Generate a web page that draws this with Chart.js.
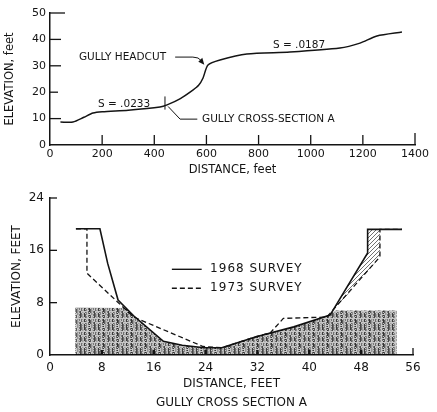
<!DOCTYPE html>
<html><head><meta charset="utf-8">
<script src="https://cdn.jsdelivr.net/npm/chart.js@4/dist/chart.umd.min.js"></script>
<style>
html,body{margin:0;padding:0;background:#fff;width:437px;height:412px;overflow:hidden}
#top{position:absolute;left:0;top:0;width:437px;height:182px}
#bot{position:absolute;left:0;top:182px;width:437px;height:230px}
</style></head><body>
<div id="top"><canvas id="c1"></canvas></div>
<div id="bot"><canvas id="c2"></canvas></div>
<script>
// ---- Longitudinal profile (top) ----
const profileDistance = [40, 88, 130, 165, 200, 300, 422, 449, 500, 548, 570, 587, 606, 652, 755, 920, 1112, 1189, 1254, 1350];
const profileElevation = [8.7, 8.7, 10.5, 12.1, 12.6, 13.2, 14.4, 15.2, 17.6, 20.8, 22.6, 25.4, 30.3, 32.2, 34.5, 35.2, 36.7, 38.6, 41.3, 42.8];
const profileXTicks = [0, 200, 400, 600, 800, 1000, 1200, 1400];
const profileYTicks = [0, 10, 20, 30, 40, 50];

// ---- Gully cross section A (bottom) ----
const survey1968X = [4, 7.7, 8.9, 10.5, 12.9, 17.5, 20.4, 23.8, 26.5, 31.8, 37.6, 43.2, 49, 49, 54.3];
const survey1968Y = [19.3, 19.3, 14.0, 8.4, 6.0, 2.1, 1.5, 1.1, 1.1, 2.8, 4.3, 6.1, 15.6, 19.2, 19.2];
const survey1973X = [4, 5.7, 5.7, 12.9, 23.6, 26.5, 31.8, 34.0, 36.0, 42.7, 50.9, 50.9, 54.3];
const survey1973Y = [19.3, 19.3, 12.5, 5.8, 1.3, 1.1, 2.8, 3.4, 5.6, 5.8, 15.0, 19.2, 19.2];
const soilLayerX = [3.9, 11.7, 12.9, 17.5, 20.4, 23.8, 26.5, 31.8, 37.6, 42.5, 44, 53.5];
const soilLayerY = [7.3, 7.2, 6.0, 2.1, 1.5, 1.1, 1.1, 2.8, 4.3, 5.9, 6.8, 6.8];
const erosionX = [49, 50.9, 50.9, 43.2, 49, 49];
const erosionY = [19.2, 19.2, 15.0, 6.1, 15.6, 19.2];
const sectionXTicks = [0, 8, 16, 24, 32, 40, 48, 56];
const sectionYTicks = [0, 8, 16, 24];

const FONT = '"DejaVu Sans", "Liberation Sans", sans-serif';
const INK = '#141414';
const pts = (xs, ys) => xs.map((x, i) => ({x, y: ys[i]}));

function makeStipple() {
  const W = 14, H = 24;
  const c = document.createElement('canvas'); c.width = W; c.height = H;
  const g = c.getContext('2d');
  g.fillStyle = 'rgba(0,0,0,0.22)'; g.fillRect(0, 0, W, H);
  const colA = [0.7, 0.5, 0.3, 0.15, 0.45, 0.75, 0.55, 0.25, 0.12, 0.4, 0.65, 0.45, 0.2, 0.1];
  for (let i = 0; i < W; i++) for (let j = 0; j < H; j++) {
    const v = (i * 7 + j * 13 + i * j * 3) % 11;
    if (v < 7) { g.fillStyle = 'rgba(0,0,0,' + colA[i] + ')'; g.fillRect(i, j, 1, 1); }
  }
  return g.createPattern(c, 'repeat');
}
function makeHatch() {
  const c = document.createElement('canvas'); c.width = 4; c.height = 4;
  const g = c.getContext('2d');
  g.strokeStyle = 'rgba(0,0,0,0.7)'; g.lineWidth = 0.8;
  g.beginPath(); g.moveTo(0, 4); g.lineTo(4, 0); g.stroke();
  return g.createPattern(c, 'repeat');
}

const fixTicks = arr => scale => { scale.ticks = arr.map(v => ({value: v})); };
const plain = v => String(v);

// ---------- TOP CHART ----------
const topNotes = {
  id: 'topNotes',
  afterDatasetsDraw(chart) {
    const {ctx, scales: {x, y}} = chart;
    const P = (a, b) => [x.getPixelForValue(a), y.getPixelForValue(b)];
    ctx.save();
    ctx.strokeStyle = INK; ctx.fillStyle = INK; ctx.lineWidth = 1.3;
    profileXTicks.forEach(v => {
      if (v === 0) return;
      const px = x.getPixelForValue(v);
      ctx.beginPath(); ctx.moveTo(px, y.bottom); ctx.lineTo(px, y.bottom - (v === 1400 ? 12 : 10)); ctx.stroke();
    });
    profileYTicks.forEach(v => {
      if (v === 0) return;
      const py = y.getPixelForValue(v);
      ctx.beginPath(); ctx.moveTo(x.left, py); ctx.lineTo(x.left + (v === 50 ? 15 : (v === 20 ? 8 : 11)), py); ctx.stroke();
    });
    ctx.font = '10.5px ' + FONT; ctx.textBaseline = 'middle'; ctx.textAlign = 'left';
    let p = P(111, 33.3); ctx.fillText('GULLY HEADCUT', p[0], p[1]);
    p = P(855, 37.9); ctx.fillText('S = .0187', p[0], p[1]);
    p = P(184, 15.4); ctx.fillText('S = .0233', p[0], p[1]);
    p = P(583, 9.8); ctx.fillText('GULLY CROSS-SECTION A', p[0], p[1]);
    // headcut arrow
    ctx.lineWidth = 1;
    let a = P(480, 33.3), b = P(548, 33.3), t = P(588, 30.8);
    ctx.beginPath(); ctx.moveTo(a[0], a[1]); ctx.lineTo(b[0], b[1]); ctx.quadraticCurveTo(b[0] + 6, b[1], t[0] - 2, t[1] - 3); ctx.stroke();
    ctx.beginPath(); ctx.moveTo(t[0] + 1, t[1] + 1); ctx.lineTo(t[0] - 5, t[1] - 2); ctx.lineTo(t[0] - 1, t[1] - 6); ctx.closePath(); ctx.fill();
    // cross-section mark and leader
    a = P(441, 13.4); b = P(441, 18.4);
    ctx.beginPath(); ctx.moveTo(a[0], a[1]); ctx.lineTo(b[0], b[1]); ctx.stroke();
    a = P(453, 14.6); b = P(499, 9.8); t = P(565, 9.8);
    ctx.beginPath(); ctx.moveTo(a[0], a[1]); ctx.lineTo(b[0], b[1]); ctx.lineTo(t[0], t[1]); ctx.stroke();
    ctx.restore();
  }
};

new Chart(document.getElementById('c1'), {
  type: 'line',
  data: {
    datasets: [{
      data: pts(profileDistance, profileElevation),
      borderColor: INK, borderWidth: 1.5, pointRadius: 0, tension: 0.25, fill: false
    }]
  },
  options: {
    responsive: true, maintainAspectRatio: false, animation: false,
    layout: {padding: {left: 3, right: 22, top: 13, bottom: 5}},
    plugins: {legend: {display: false}, tooltip: {enabled: false}},
    scales: {
      x: {
        type: 'linear', min: 0, max: 1400,
        afterBuildTicks: fixTicks(profileXTicks),
        afterFit: s => { s.height = 32; },
        grid: {drawOnChartArea: false, drawTicks: false},
        border: {display: true, color: INK, width: 1.5},
        ticks: {color: INK, padding: 3, font: {family: FONT, size: 11}, maxRotation: 0, autoSkip: false, callback: plain},
        title: {display: true, text: 'DISTANCE, feet', color: INK, padding: 0, font: {family: FONT, size: 11.5}}
      },
      y: {
        type: 'linear', min: 0, max: 50,
        afterBuildTicks: fixTicks(profileYTicks),
        afterFit: s => { s.width = 47; },
        grid: {drawOnChartArea: false, drawTicks: false},
        border: {display: true, color: INK, width: 1.5},
        ticks: {color: INK, padding: 4, font: {family: FONT, size: 11}, callback: plain},
        title: {display: true, text: 'ELEVATION, feet', color: INK, padding: 0, font: {family: FONT, size: 11.5}}
      }
    }
  },
  plugins: [topNotes]
});

// ---------- BOTTOM CHART ----------
const botNotes = {
  id: 'botNotes',
  afterDatasetsDraw(chart) {
    const {ctx, scales: {x, y}} = chart;
    const P = (a, b) => [x.getPixelForValue(a), y.getPixelForValue(b)];
    ctx.save();
    ctx.strokeStyle = INK; ctx.fillStyle = INK; ctx.lineWidth = 1.3;
    sectionXTicks.forEach(v => {
      if (v === 0) return;
      const px = x.getPixelForValue(v);
      ctx.lineWidth = v === 56 ? 1.3 : 2.5;
      ctx.beginPath(); ctx.moveTo(px, y.bottom); ctx.lineTo(px, y.bottom - (v === 56 ? 7 : 5)); ctx.stroke();
    });
    ctx.lineWidth = 1.3;
    sectionYTicks.forEach(v => {
      if (v === 0) return;
      const py = y.getPixelForValue(v);
      ctx.beginPath(); ctx.moveTo(x.left, py); ctx.lineTo(x.left + 7, py); ctx.stroke();
    });
    // legend
    const items = [{label: '1968 SURVEY', y: 13.1, dash: []}, {label: '1973 SURVEY', y: 10.2, dash: [5, 3]}];
    ctx.font = '12px ' + FONT; ctx.textBaseline = 'middle'; ctx.textAlign = 'left';
    ctx.letterSpacing = '1px';
    items.forEach(it => {
      const a = P(18.8, it.y), b = P(23.4, it.y), t = P(24.7, it.y);
      ctx.setLineDash(it.dash); ctx.lineWidth = 1.4;
      ctx.beginPath(); ctx.moveTo(a[0], a[1]); ctx.lineTo(b[0], b[1]); ctx.stroke();
      ctx.setLineDash([]);
      ctx.fillText(it.label, t[0], t[1]);
    });
    ctx.restore();
  }
};

new Chart(document.getElementById('c2'), {
  type: 'line',
  data: {
    datasets: [
      {label: 'soil', data: pts(soilLayerX, soilLayerY), borderWidth: 0, borderColor: 'rgba(0,0,0,0)', pointRadius: 0, tension: 0, fill: 'origin', backgroundColor: makeStipple()},
      {label: 'erosion', data: pts(erosionX, erosionY), borderWidth: 0, borderColor: 'rgba(0,0,0,0)', pointRadius: 0, tension: 0, fill: 'shape', backgroundColor: makeHatch()},
      {label: '1968 SURVEY', data: pts(survey1968X, survey1968Y), borderColor: INK, borderWidth: 1.6, pointRadius: 0, tension: 0, fill: false},
      {label: '1973 SURVEY', data: pts(survey1973X, survey1973Y), borderColor: INK, borderWidth: 1.3, borderDash: [5, 3], pointRadius: 0, tension: 0, fill: false}
    ]
  },
  options: {
    responsive: true, maintainAspectRatio: false, animation: false,
    layout: {padding: {left: 10, right: 24, top: 16, bottom: 0}},
    plugins: {legend: {display: false}, tooltip: {enabled: false}},
    scales: {
      x: {
        type: 'linear', min: 0, max: 56,
        afterBuildTicks: fixTicks(sectionXTicks),
        afterFit: s => { s.height = 57; },
        grid: {drawOnChartArea: false, drawTicks: false},
        border: {display: true, color: INK, width: 1.5},
        ticks: {color: INK, padding: 6, font: {family: FONT, size: 12}, maxRotation: 0, autoSkip: false, callback: plain},
        title: {display: true, text: ['DISTANCE, FEET', 'GULLY CROSS SECTION A'], color: INK, padding: 0, font: {family: FONT, size: 12, lineHeight: 1.55}}
      },
      y: {
        type: 'linear', min: 0, max: 24,
        afterBuildTicks: fixTicks(sectionYTicks),
        afterFit: s => { s.width = 40; },
        grid: {drawOnChartArea: false, drawTicks: false},
        border: {display: true, color: INK, width: 1.5},
        ticks: {color: INK, padding: 6, font: {family: FONT, size: 12}, callback: plain},
        title: {display: true, text: 'ELEVATION, FEET', color: INK, padding: 0, font: {family: FONT, size: 12}}
      }
    }
  },
  plugins: [botNotes]
});
</script>
</body></html>
